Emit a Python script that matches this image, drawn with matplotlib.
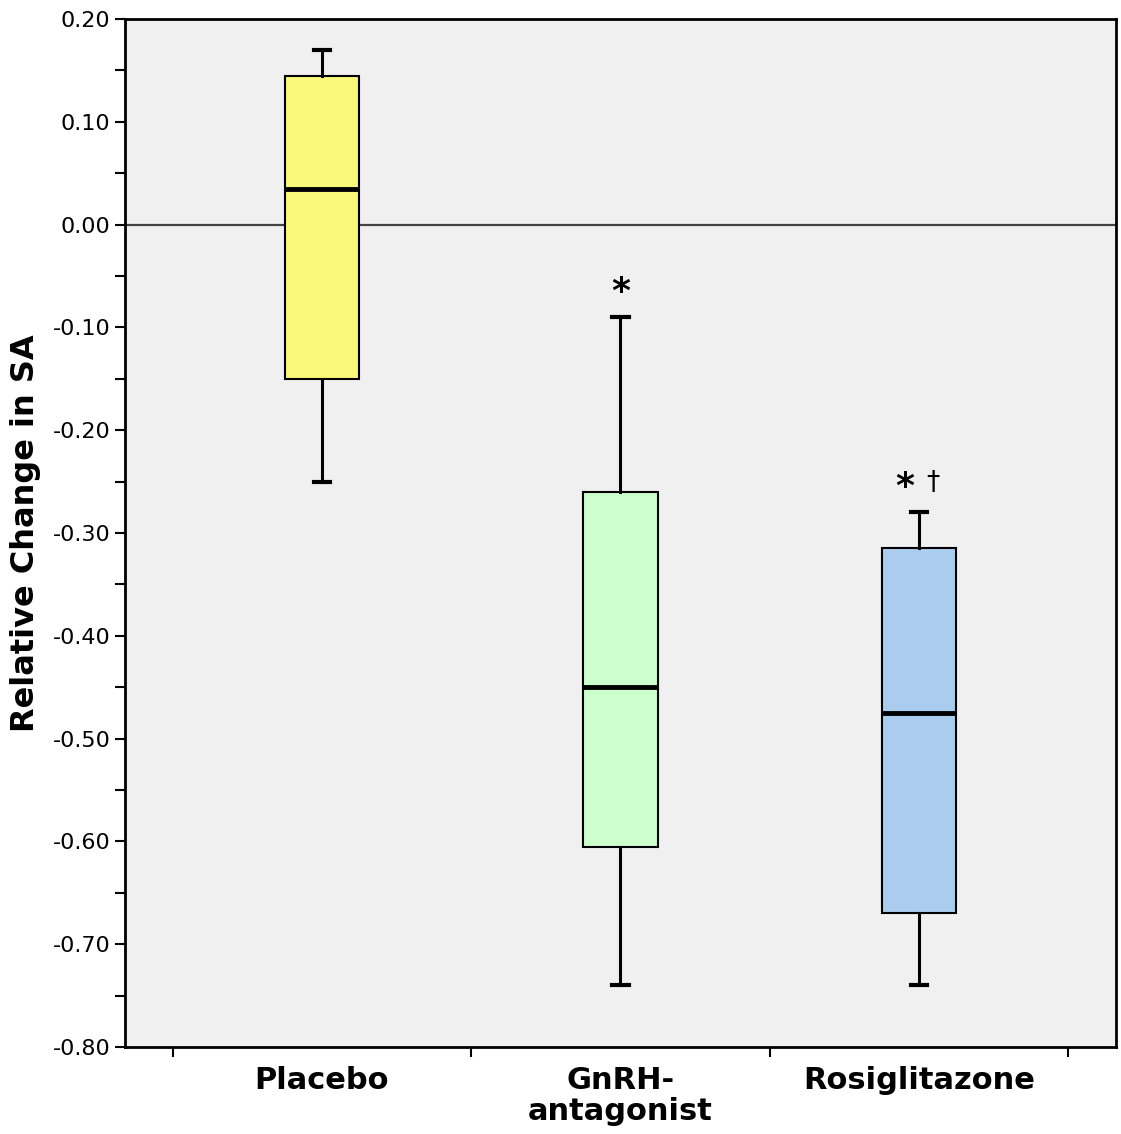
import matplotlib.pyplot as plt
from matplotlib.ticker import MultipleLocator

# Box statistics
groups = ['Placebo', 'GnRH-\nantagonist', 'Rosiglitazone']
whislo = [-0.25, -0.74, -0.74]
q1 = [-0.15, -0.605, -0.67]
med = [0.035, -0.45, -0.475]
q3 = [0.145, -0.26, -0.315]
whishi = [0.17, -0.09, -0.28]
box_colors = ['#FAF87A', '#CCFFCC', '#AACCEE']
stars = [False, True, True]
daggers = [False, False, True]

stats = []
for i in range(len(groups)):
    stats.append({'whislo': whislo[i], 'q1': q1[i], 'med': med[i],
                  'q3': q3[i], 'whishi': whishi[i], 'fliers': []})

fig = plt.figure(figsize=(11.21, 11.34), dpi=100)
ax = fig.add_axes([0.1115, 0.0767, 0.8840, 0.9065])
ax.set_facecolor('#F0F0F0')

ax.axhline(0, color='#444444', linewidth=1.6, zorder=1)

bp = ax.bxp(stats, positions=[1, 2, 3], widths=0.25, patch_artist=True,
            showfliers=False,
            boxprops=dict(edgecolor='black', linewidth=1.5),
            medianprops=dict(color='black', linewidth=3.5),
            whiskerprops=dict(color='black', linewidth=2.2),
            capprops=dict(color='black', linewidth=3),
            capwidths=0.055, zorder=2)
for patch, c in zip(bp['boxes'], box_colors):
    patch.set_facecolor(c)

# significance marks above the upper whiskers
for i in range(len(groups)):
    if stars[i] and daggers[i]:
        ax.text(i + 1 - 0.047, whishi[i] + 0.008, '*', ha='center', va='bottom',
                fontsize=26, fontweight='bold')
        ax.text(i + 1 + 0.047, whishi[i] + 0.029, '\u2020', ha='center', va='center',
                fontsize=19)
    elif stars[i]:
        ax.text(i + 1, whishi[i] + 0.008, '*', ha='center', va='bottom',
                fontsize=26, fontweight='bold')

ax.set_xlim(0.34, 3.66)
ax.set_ylim(-0.80, 0.20)
ax.set_xticks([1, 2, 3])
ax.set_xticklabels(groups, fontsize=22, fontweight='bold', linespacing=1.05)
ax.set_xticks([0.5, 1.5, 2.5, 3.5], minor=True)
ax.tick_params(axis='x', which='major', length=0, pad=14)
ax.tick_params(axis='x', which='minor', length=7, width=1.5)

ax.yaxis.set_major_locator(MultipleLocator(0.1))
ax.yaxis.set_minor_locator(MultipleLocator(0.05))
ax.yaxis.set_major_formatter(lambda v, p: f'{v:.2f}')
ax.tick_params(axis='y', which='both', length=7, width=1.5, labelsize=16)
ax.set_ylabel('Relative Change in SA', fontsize=23, fontweight='bold', labelpad=8)

for s in ax.spines.values():
    s.set_linewidth(2)

plt.savefig('out.png', dpi=100)
